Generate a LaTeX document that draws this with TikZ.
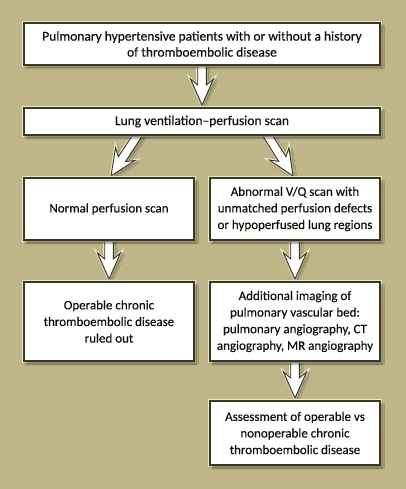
\documentclass[tikz,border=0pt]{standalone}
\usepackage{fontspec}
\setmainfont{Carlito}
\newfontfamily\boxfont[FakeBold=0.35,Ligatures=TeX]{Carlito}
\usetikzlibrary{calc,shadows.blur}
\definecolor{bgtan}{RGB}{190,182,136}
\definecolor{edge}{RGB}{58,56,30}
\definecolor{rim}{RGB}{236,232,205}
\definecolor{txt}{RGB}{15,15,10}
\tikzset{
  box/.style={draw=edge, line width=1.1pt, fill=white, inner sep=0pt,
    preaction={draw=rim, line width=3.6pt},
    blur shadow={shadow xshift=2.5pt, shadow yshift=-3pt, shadow opacity=45, shadow blur steps=6},
    align=center, text=txt, font=\boxfont\fontsize{13}{16.6}\selectfont},
  bigtext/.style={font=\boxfont\fontsize{13.5}{16}\selectfont},
  arrowbody/.style={draw=edge, line width=0.9pt, fill=white, line join=miter,
    preaction={draw=rim, line width=3pt},
    blur shadow={shadow xshift=2pt, shadow yshift=-2pt, shadow opacity=35, shadow blur steps=5}}
}
% #1 start, #2 tip; barbs swept back
\newcommand{\blkarrow}[2]{%
  \coordinate (hb) at ($(#2)!20pt!(#1)$);
  \coordinate (hw) at ($(#2)!26pt!(#1)$);
  \path[arrowbody] ($(#1)!4.3pt!90:(#2)$) -- ($(hb)!4.3pt!-90:(#1)$) -- ($(hw)!11.5pt!-90:(#1)$) -- (#2)
    -- ($(hw)!11.5pt!90:(#1)$) -- ($(hb)!4.3pt!90:(#1)$) -- ($(#1)!4.3pt!-90:(#2)$) -- cycle;
}
\begin{document}
\begin{tikzpicture}[x=1pt,y=-1pt]
\fill[bgtan] (0,0) rectangle (406,489);
\useasboundingbox (0,0) rectangle (406,489);
% layout centres
\coordinate (c1) at (202,44);
\coordinate (c2) at (202,121.5);
\coordinate (c3l) at (109,209);
\coordinate (c3r) at (295,209);
\coordinate (c4l) at (109,321.5);
\coordinate (c4r) at (295,321.5);
\coordinate (c5) at (295,433);
% arrows first (behind boxes)
\path (c1) ++(0,21) coordinate (a1s);
\path (c2) ++(0,-16.5) coordinate (a1e);
\blkarrow{a1s}{a1e}
\coordinate (a2s) at (139,133);
\coordinate (a2e) at (111,176);
\blkarrow{a2s}{a2e}
\coordinate (a3s) at (266,133);
\coordinate (a3e) at (293,176);
\blkarrow{a3s}{a3e}
\path (c3l) ++(0,31) coordinate (a4s);
\path (c4l) ++(0,-42.5) coordinate (a4e);
\blkarrow{a4s}{a4e}
\path (c3r) ++(0,31) coordinate (a5s);
\path (c4r) ++(0,-42.5) coordinate (a5e);
\blkarrow{a5s}{a5e}
\path (c4r) ++(0,39.5) coordinate (a6s);
\path (c5) ++(0,-35) coordinate (a6e);
\blkarrow{a6s}{a6e}
% boxes
\node[box, bigtext, minimum width=356pt, minimum height=42pt] (b1) at (c1)
  {Pulmonary hypertensive patients with or without a history\\of thromboembolic disease};
\node[box, bigtext, minimum width=356pt, minimum height=27pt] (b2) at (c2)
  {Lung ventilation–perfusion scan};
\node[box, minimum width=170pt, minimum height=62pt] (b3l) at (c3l)
  {Normal perfusion scan};
\node[box, minimum width=170pt, minimum height=62pt] (b3r) at (c3r)
  {Abnormal V/Q scan with\\unmatched perfusion defects\\or hypoperfused lung regions};
\node[box, minimum width=170pt, minimum height=79pt] (b4l) at (c4l)
  {Operable chronic\\thromboembolic disease\\ruled out};
\node[box, minimum width=170pt, minimum height=79pt] (b4r) at (c4r)
  {Additional imaging of\\pulmonary vascular bed:\\pulmonary angiography, CT\\angiography, MR angiography};
\node[box, minimum width=170pt, minimum height=64pt] (b5) at (c5)
  {Assessment of operable vs\\nonoperable chronic\\thromboembolic disease};
\end{tikzpicture}
\end{document}
